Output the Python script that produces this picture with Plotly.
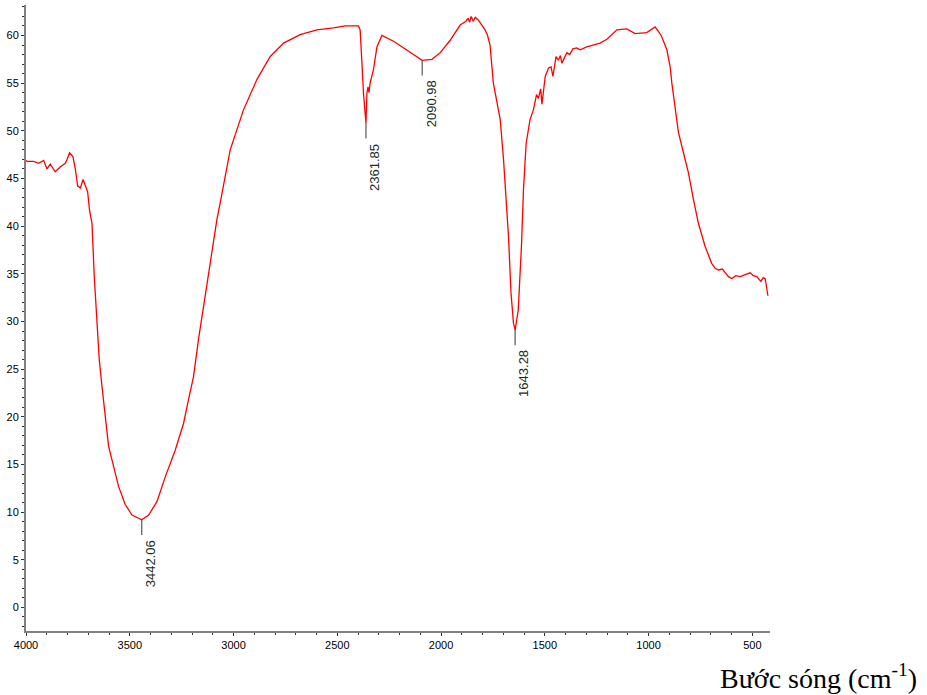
import plotly.graph_objects as go

wavenumber = [4000, 3995, 3963, 3939, 3915, 3899, 3883, 3859, 3835, 3811, 3802, 3790, 3774, 3763,
              3751, 3738, 3725, 3714, 3703, 3694, 3682, 3671, 3658, 3647, 3634, 3618, 3602, 3578,
              3554, 3522, 3489, 3442, 3409, 3369, 3329, 3281, 3241, 3217, 3193, 3169, 3152, 3128,
              3104, 3080, 3061, 3016, 2952, 2887, 2823, 2759, 2679, 2598, 2518, 2462, 2398, 2390,
              2382, 2374, 2362, 2357, 2352, 2347, 2342, 2326, 2309, 2285, 2229, 2165, 2117, 2091,
              2044, 2004, 1956, 1908, 1880, 1870, 1862, 1855, 1845, 1835, 1820, 1800, 1788, 1776,
              1764, 1748, 1730, 1715, 1699, 1686, 1675, 1663, 1651, 1643, 1628, 1612, 1603, 1590,
              1571, 1555, 1540, 1531, 1520, 1514, 1498, 1482, 1470, 1461, 1446, 1435, 1425, 1418,
              1394, 1380, 1365, 1346, 1330, 1298, 1234, 1201, 1153, 1105, 1065, 1009, 969, 955,
              937, 912, 896, 888, 872, 856, 832, 808, 784, 760, 728, 696, 680, 664, 645, 632,
              615, 599, 580, 559, 530, 511, 495, 479, 459, 448, 438, 430, 428, 425]
transmittance = [46.9, 46.8, 46.8, 46.6, 46.9, 46.0, 46.5, 45.7, 46.2, 46.6, 47.0, 47.7, 47.3, 46.1,
                 44.2, 44.0, 44.9, 44.2, 43.6, 41.7, 40.3, 34.7, 29.5, 26.0, 23.2, 20.0, 16.9, 14.8,
                 12.7, 10.8, 9.7, 9.2, 9.7, 11.1, 13.7, 16.5, 19.3, 21.8, 24.2, 28.1, 30.5, 34.0,
                 37.5, 40.7, 42.8, 48.0, 52.2, 55.4, 57.8, 59.2, 60.1, 60.6, 60.8, 61.0, 61.0, 60.6,
                 57.4, 54.0, 50.8, 54.0, 54.6, 54.0, 55.0, 56.4, 58.8, 60.0, 59.4, 58.5, 57.8, 57.4,
                 57.5, 58.2, 59.5, 61.1, 61.5, 61.8, 61.4, 62.0, 61.5, 61.9, 61.6, 61.0, 60.6, 60.0,
                 59.0, 55.0, 53.0, 51.2, 47.0, 43.1, 38.9, 33.0, 29.8, 29.1, 31.2, 38.2, 43.8, 48.7,
                 51.2, 52.2, 53.8, 53.4, 54.4, 52.8, 55.7, 56.6, 56.7, 55.7, 57.8, 57.4, 57.9, 57.1,
                 58.2, 58.0, 58.6, 58.7, 58.5, 58.8, 59.2, 59.6, 60.6, 60.7, 60.2, 60.3, 60.9, 60.5,
                 59.9, 58.5, 56.7, 55.0, 52.2, 49.8, 47.7, 45.6, 42.8, 40.3, 37.9, 36.1, 35.6, 35.4,
                 35.5, 35.2, 34.7, 34.5, 34.8, 34.7, 34.9, 35.1, 34.8, 34.7, 34.2, 34.6, 34.5, 33.5,
                 32.8, 32.7]

peak_wn = [3442.06, 2361.85, 2090.98, 1643.28]
peak_val = [9.2, 50.8, 57.4, 29.1]
peak_labels = ["3442.06", "2361.85", "2090.98", "1643.28"]

x_ticks = [4000, 3500, 3000, 2500, 2000, 1500, 1000, 500]
y_ticks = [0, 5, 10, 15, 20, 25, 30, 35, 40, 45, 50, 55, 60]

fig = go.Figure()
fig.add_trace(go.Scatter(x=wavenumber, y=transmittance, mode="lines",
                         line=dict(color="#ff0000", width=1.3), showlegend=False,
                         hoverinfo="skip"))

tick_len = 1.6
for w, v, lab in zip(peak_wn, peak_val, peak_labels):
    fig.add_shape(type="line", xref="x", yref="y", x0=w, x1=w, y0=v, y1=v - tick_len,
                  line=dict(color="#333333", width=1))
    fig.add_annotation(x=w, y=v - tick_len, xref="x", yref="y", text=lab,
                       textangle=-90, showarrow=False, xanchor="center", yanchor="top",
                       xshift=9, yshift=-3,
                       font=dict(family="Liberation Sans, Arial", size=13, color="#1a2a1a"))

fig.add_annotation(xref="paper", yref="paper", x=1.2, y=-0.073, xanchor="right",
                   yanchor="middle", showarrow=False,
                   text="Bước sóng (cm<sup>-1</sup>)",
                   font=dict(family="Liberation Serif, Times New Roman", size=28, color="#000000"))

fig.update_xaxes(range=[4000, 415], tickmode="array", tickvals=x_ticks,
                 ticktext=[str(t) for t in x_ticks], automargin=False,
                 showline=True, linecolor="#808080", linewidth=2, showgrid=False,
                 zeroline=False, ticks="outside", ticklen=3, tickcolor="#333333",
                 tickfont=dict(family="Liberation Sans, Arial", size=11, color="#000000"),
                 minor=dict(dtick=100, ticks="outside", ticklen=2, tickcolor="#333333"))
fig.update_yaxes(range=[-2.47, 63.2], tickmode="array", tickvals=y_ticks,
                 ticktext=[str(t) for t in y_ticks], automargin=False,
                 showline=True, linecolor="#808080", linewidth=2, showgrid=False,
                 zeroline=False, ticks="outside", ticklen=3, tickcolor="#333333",
                 tickfont=dict(family="Liberation Sans, Arial", size=11, color="#000000"),
                 minor=dict(dtick=1, ticks="outside", ticklen=2, tickcolor="#333333"))

fig.update_layout(width=927, height=695, plot_bgcolor="white", paper_bgcolor="white",
                  margin=dict(l=26, r=157, t=5, b=64))

fig.write_html("out.html", config={"displayModeBar": False},
               post_script="document.body.style.margin='0';document.body.style.overflow='hidden';")
